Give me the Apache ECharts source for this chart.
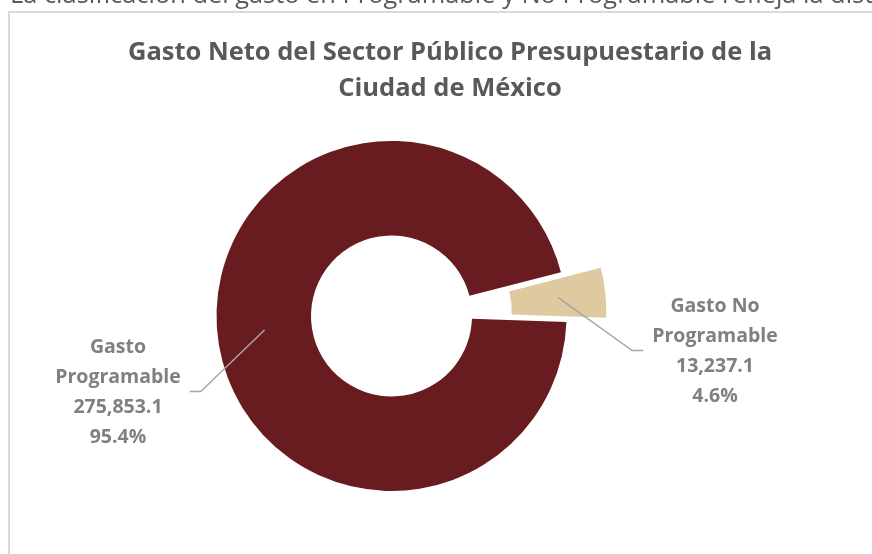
<!DOCTYPE html>
<html>
<head>
<meta charset="utf-8">
<script src="https://cdn.jsdelivr.net/npm/echarts@6/dist/echarts.min.js"></script>
<style>html,body{margin:0;padding:0;background:#fff;}#c{width:872px;height:554px;}</style>
</head>
<body>
<div id="c"></div>
<script>
const categories = ['Gasto No Programable', 'Gasto Programable'];
const values = [13237.1, 275853.1];
const colors = ['#dec9a0', '#691c20'];
const explodedIndex = 0;
const titleText = 'Gasto Neto del Sector Público Presupuestario de la\nCiudad de México';
const topText = 'La clasificación del gasto en Programable y No Programable refleja la distribución del gasto público';

const CX = 391.5, CY = 316, R0 = 80.5, R1 = 175, START = 14.5, OFFSET = 40;
const total = values.reduce((a, b) => a + b, 0);

function fmtNum(v) {
  return v.toLocaleString('en-US', {minimumFractionDigits: 1, maximumFractionDigits: 1});
}
function midAngle(i) {
  let acc = 0;
  for (let k = 0; k < i; k++) acc += values[k];
  const a0 = START - acc / total * 360;
  const a1 = a0 - values[i] / total * 360;
  return (a0 + a1) / 2 * Math.PI / 180;
}
function centerOf(exploded) {
  const am = midAngle(explodedIndex);
  const off = exploded ? OFFSET : 0;
  return [CX + Math.cos(am) * off, CY - Math.sin(am) * off];
}
const labelPos = [
  {x: 715, y: 351.5, side: 1},
  {x: 118, y: 392.5, side: -1}
];

// layer: 'main' | 'exploded' draws sectors; 'labels' draws transparent sectors carrying labels on top
function makeSeries(layer) {
  const c = centerOf(layer === 'exploded');
  return {
    type: 'pie',
    silent: true,
    z: layer === 'labels' ? 10 : 2,
    center: c,
    radius: [R0, R1],
    startAngle: START,
    clockwise: true,
    avoidLabelOverlap: false,
    data: categories.map((name, i) => {
      const isExp = i === explodedIndex;
      let own;
      if (layer === 'labels') own = false;
      else own = isExp === (layer === 'exploded');
      return {
        name: name, value: values[i],
        itemStyle: {color: own ? colors[i] : 'rgba(0,0,0,0)'}
      };
    }),
    label: {
      show: layer === 'labels',
      position: 'outside',
      fontFamily: 'Open Sans', fontWeight: 'bold', fontSize: 19.5, lineHeight: 30,
      color: '#808080', align: 'center',
      formatter: p => p.name.replace(/ (?=Programable)/, '\n') + '\n' + fmtNum(p.value) + '\n' + (p.value / total * 100).toFixed(1) + '%'
    },
    labelLine: {show: layer === 'labels', lineStyle: {color: '#a6a6a6', width: 1.5}},
    labelLayout: layer !== 'labels' ? null : function (p) {
      const i = p.dataIndex;
      const lp = labelPos[i];
      const a = midAngle(i);
      const cc = centerOf(i === explodedIndex);
      const rm = (R0 + R1) / 2;
      const sx = cc[0] + Math.cos(a) * rm, sy = cc[1] - Math.sin(a) * rm;
      const w = p.labelRect.width;
      const ex = lp.x - lp.side * (w / 2 + 9);
      const mx = ex - lp.side * 11;
      return {
        x: lp.x, y: lp.y, align: 'center', verticalAlign: 'middle',
        labelLinePoints: [[sx, sy], [mx, lp.y - 1], [ex, lp.y - 1]]
      };
    }
  };
}

const chart = echarts.init(document.getElementById('c'), null, {renderer: 'canvas'});
chart.setOption({
  animation: false,
  graphic: [
    {type: 'rect', shape: {x: 9, y: 12, width: 900, height: 600}, style: {fill: 'none', stroke: '#d9d9d9', lineWidth: 2}, z: 0},
    {type: 'text', left: 10, top: -17, style: {text: topText, font: '25.4px "Open Sans"', fill: '#595959'}, z: 1}
  ],
  title: {
    text: titleText,
    left: 445, top: 30, textAlign: 'center',
    textStyle: {fontFamily: 'Open Sans', fontWeight: 'bold', fontSize: 25.5, color: '#595959', lineHeight: 36}
  },
  series: [makeSeries('main'), makeSeries('exploded'), makeSeries('labels')]
});
</script>
</body>
</html>
